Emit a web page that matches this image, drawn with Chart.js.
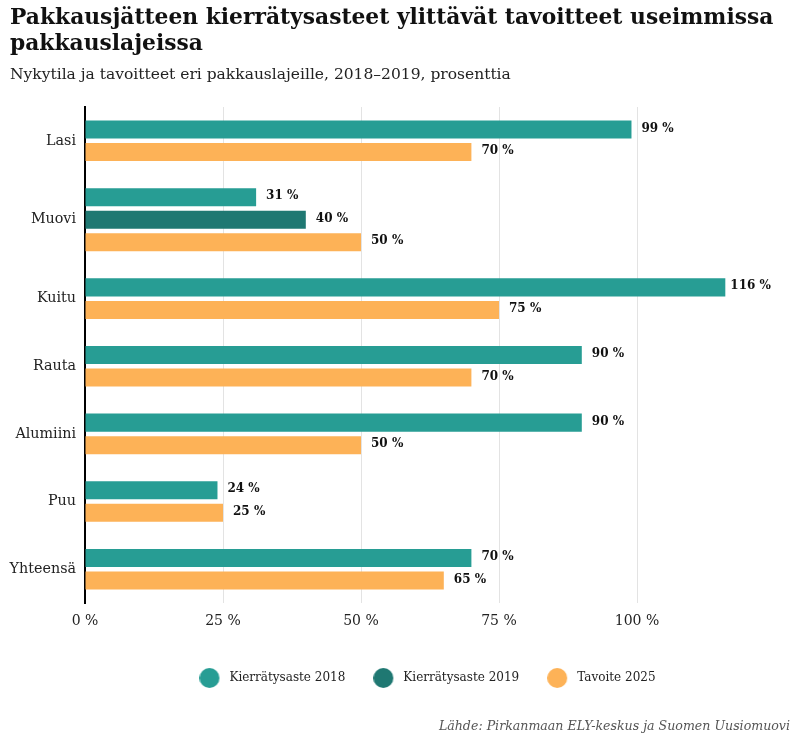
<!DOCTYPE html>
<html>
<head>
<meta charset="utf-8">
<script src="https://cdn.jsdelivr.net/npm/chart.js@4.4.1/dist/chart.umd.min.js"></script>
<style>
html,body{margin:0;padding:0;background:#fff;}
#wrap{position:relative;width:800px;height:747px;overflow:hidden;font-family:"DejaVu Serif",serif;}
#title{position:absolute;left:10px;top:4px;margin:0;font-size:21.8px;font-weight:bold;line-height:26px;color:#111;}
#sub{position:absolute;left:10px;top:65px;font-size:15.5px;line-height:18px;color:#222;}
#src{position:absolute;right:10px;top:718px;font-size:12.6px;line-height:16px;font-style:italic;color:#555;}
canvas{position:absolute;left:0;top:0;}
</style>
</head>
<body>
<div id="wrap">
<canvas id="c" width="800" height="747"></canvas>
<h1 id="title">Pakkausjätteen kierrätysasteet ylittävät tavoitteet useimmissa<br>pakkauslajeissa</h1>
<div id="sub">Nykytila ja tavoitteet eri pakkauslajeille, 2018–2019, prosenttia</div>
<div id="src">Lähde: Pirkanmaan ELY-keskus ja Suomen Uusiomuovi</div>
</div>
<script>
// ---- data ----
const categories = ['Lasi', 'Muovi', 'Kuitu', 'Rauta', 'Alumiini', 'Puu', 'Yhteensä'];
const rate2018   = [99, 31, 116, 90, 90, 24, 70];
const rate2019   = [null, 40, null, null, null, null, null];
const target2025 = [70, 50, 75, 70, 50, 25, 65];
const seriesNames = ['Kierrätysaste 2018', 'Kierrätysaste 2019', 'Tavoite 2025'];
const xTickValues = [0, 25, 50, 75, 100];
const xMax = 125;

// ---- styles ----
const seriesColors = ['#279d94', '#1f7872', '#fdb257'];
const FONT = '"DejaVu Serif", serif';

// ---- build rows: each present value gets its own row, one empty row between groups ----
const seriesValues = [rate2018, rate2019, target2025];
const points = seriesValues.map(() => []);
const groupCenters = [];
let cursor = 0;
categories.forEach((cat, i) => {
  let slot = 0;
  seriesValues.forEach((vals, s) => {
    if (vals[i] !== null && vals[i] !== undefined) {
      points[s].push({ x: vals[i], y: cursor + slot + 0.5 });
      slot++;
    }
  });
  groupCenters.push(cursor + slot / 2);
  cursor += slot + 1;
});
const yMin = -0.5;
const yMax = cursor - 0.5;

function dot(color) {
  const c = document.createElement('canvas');
  c.width = 36; c.height = 20;
  const g = c.getContext('2d');
  g.fillStyle = color;
  g.beginPath();
  g.arc(10, 10, 10, 0, Math.PI * 2);
  g.fill();
  return c;
}
const dots = seriesColors.map(dot);

const valueLabels = {
  id: 'valueLabels',
  afterDatasetsDraw(chart) {
    const ctx = chart.ctx;
    ctx.save();
    ctx.font = 'bold 12px ' + FONT;
    ctx.fillStyle = '#111';
    ctx.textBaseline = 'middle';
    ctx.textAlign = 'left';
    chart.data.datasets.forEach((ds, di) => {
      const meta = chart.getDatasetMeta(di);
      meta.data.forEach((el, j) => {
        const v = ds.data[j].x;
        const gap = v > 110 ? 5 : 10;
        ctx.fillText(v + ' %', el.x + gap, el.y - 1);
      });
    });
    ctx.restore();
  }
};

const legendShift = {
  id: 'legendShift',
  afterLayout(chart) {
    if (chart.legend) {
      chart.legend.left += 46;
      chart.legend.right += 46;
    }
  }
};

new Chart(document.getElementById('c'), {
  type: 'bar',
  data: {
    datasets: seriesNames.map((name, s) => ({
      label: name,
      data: points[s],
      backgroundColor: seriesColors[s],
      borderWidth: 0,
      grouped: false,
      barPercentage: 0.8,
      categoryPercentage: 1
    }))
  },
  options: {
    indexAxis: 'y',
    responsive: false,
    animation: false,
    layout: { padding: { top: 107, right: 25, bottom: 53, left: 0 } },
    scales: {
      x: {
        type: 'linear',
        position: 'bottom',
        min: 0,
        max: xMax,
        afterBuildTicks: sc => { sc.ticks = xTickValues.map(v => ({ value: v })); },
        afterFit: sc => { sc.height = 29; },
        grid: { color: '#e3e3e3', lineWidth: 1, drawTicks: false },
        border: { display: false },
        ticks: { padding: 10, color: '#222', font: { family: FONT, size: 14 }, callback: v => v + ' %' }
      },
      y: {
        type: 'linear',
        reverse: true,
        offset: false,
        min: yMin,
        max: yMax,
        afterBuildTicks: sc => { sc.ticks = groupCenters.map(v => ({ value: v })); },
        afterFit: sc => { sc.width = 85; },
        grid: { display: false, drawTicks: false, offset: false },
        border: { display: true, color: '#000', width: 2 },
        ticks: { autoSkip: false, padding: 9, color: '#222', font: { family: FONT, size: 14.3 }, callback: (v, i) => categories[i] }
      }
    },
    plugins: {
      legend: {
        position: 'bottom',
        align: 'center',
        labels: {
          usePointStyle: true,
          padding: 40,
          color: '#222',
          font: { family: FONT, size: 12 },
          generateLabels: chart => Chart.defaults.plugins.legend.labels.generateLabels(chart)
            .map((it, i) => Object.assign(it, { pointStyle: dots[i], lineWidth: 0 }))
        }
      },
      tooltip: { enabled: false }
    }
  },
  plugins: [valueLabels, legendShift]
});
</script>
</body>
</html>
